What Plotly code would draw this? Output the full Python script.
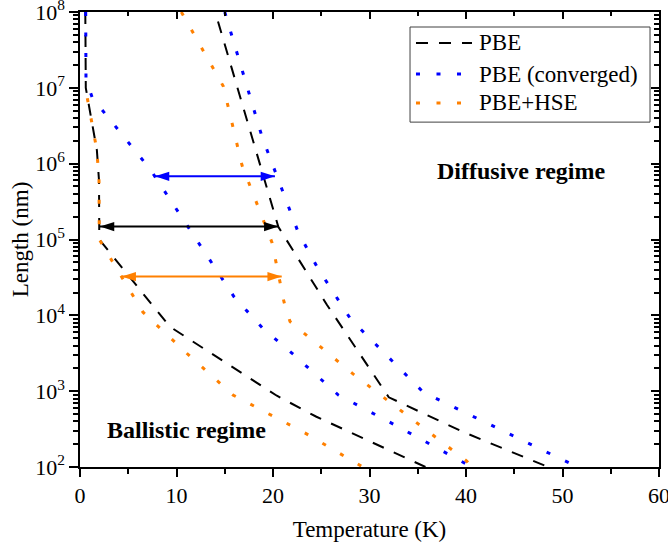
import numpy as np
import plotly.graph_objects as go

# ---- data: temperature (K) vs length (nm) boundaries ----
# PBE
pbe_ball_T = [0.55, 0.6, 1.75, 1.97, 2.0, 9.3, 20.4, 24.5, 35.8]
pbe_ball_L = [1e8, 1e7, 1.5e6, 6e5, 1e5, 7.1e3, 870, 460, 100]
pbe_diff_T = [14.3, 20.55, 25.6, 32.0, 39.7, 48.5]
pbe_diff_L = [7.5e7, 1.47e5, 1.37e4, 830, 290, 100]

# PBE (converged)
conv_ball_T = [0.59, 0.62, 1.27, 7.25, 15.96, 18.86, 22.1, 26.77, 32.5, 40.6]
conv_ball_L = [1e8, 1.3e7, 7.4e6, 8.5e5, 1.76e4, 6.9e3, 3.06e3, 890, 366, 100]
conv_diff_T = [15.0, 18.86, 22.62, 24.6, 28.05, 32.57, 35.58, 52.7]
conv_diff_L = [1e8, 2.27e6, 1.24e5, 4.27e4, 8.9e3, 2.33e3, 966, 85]

# PBE+HSE
hse_ball_T = [0.76, 1.75, 1.97, 2.0, 4.32, 6.53, 11.06, 15.85, 23.3, 29.3]
hse_ball_L = [7.3e6, 1.5e6, 6e5, 1e5, 3.2e4, 1.1e4, 3.16e3, 890, 282, 100]
hse_diff_T = [10.5, 14.85, 16.79, 19.9, 21.14, 21.76, 28.26, 40.07, 40.9]
hse_diff_L = [1e8, 1.05e7, 9.5e5, 9.1e4, 1.5e4, 8.3e3, 1.7e3, 120, 88]

# double-headed arrows: (T_left, T_right, length level)
arrow_T_left = [7.77, 2.07, 4.32]
arrow_T_right = [20.2, 20.55, 20.9]
arrow_L = [6.8e5, 1.48e5, 3.24e4]

series_names = ["PBE", "PBE (converged)", "PBE+HSE"]
major_T = [0, 10, 20, 30, 40, 50, 60]
minor_T = [5, 15, 25, 35, 45, 55]
major_exp = [2, 3, 4, 5, 6, 7, 8]

FONT = "Liberation Serif, Times New Roman, Times, DejaVu Serif, serif"
BLACK = "#000000"
BLUE = "#0000FF"
ORANGE = "#FF8000"

styles = [
    dict(color=BLACK, dash="12px,11px", width=2),
    dict(color=BLUE, dash="4px,16.5px", width=3),
    dict(color=ORANGE, dash="4px,16.5px", width=3),
]
curves = [
    [(pbe_ball_T, pbe_ball_L), (pbe_diff_T, pbe_diff_L)],
    [(conv_ball_T, conv_ball_L), (conv_diff_T, conv_diff_L)],
    [(hse_ball_T, hse_ball_L), (hse_diff_T, hse_diff_L)],
]

fig = go.Figure()
for name, style, pair in zip(series_names, styles, curves):
    for T, L in pair:
        fig.add_trace(go.Scatter(
            x=T, y=L, mode="lines", name=name, legendgroup=name,
            showlegend=False, line=style, hoverinfo="skip",
        ))

arrow_colors = [BLUE, BLACK, ORANGE]
for tl, tr, lv, c in zip(arrow_T_left, arrow_T_right, arrow_L, arrow_colors):
    fig.add_trace(go.Scatter(
        x=[tl, tr], y=[lv, lv], mode="lines+markers", showlegend=False,
        line=dict(color=c, width=2),
        marker=dict(symbol="arrow", size=15, color=c, angle=[-90, 90],
                    line=dict(width=0)),
        hoverinfo="skip",
    ))

major_L = [10 ** e for e in major_exp]
minor_L = [m * 10 ** e for e in range(2, 8) for m in range(2, 10)]
tick_text = [f"10<sup>{e}</sup>" for e in major_exp]

# extra tick-only axes: (axis id, overlay of, side, tick values, length, direction)
tick_axes = [
    ("x2", "x", "bottom", minor_T, 5, "outside"),
    ("x3", "x", "top", major_T, 7, "inside"),
    ("x4", "x", "top", minor_T, 4, "inside"),
    ("y2", "y", "left", minor_L, 5, "outside"),
    ("y3", "y", "right", major_L, 8, "inside"),
    ("y4", "y", "right", minor_L, 5, "inside"),
]

# invisible point per overlay pair so each tick-only axis gets drawn
for xa, ya in [("x2", "y2"), ("x3", "y3"), ("x4", "y4")]:
    fig.add_trace(go.Scatter(x=[30], y=[1e5], xaxis=xa, yaxis=ya,
                             mode="markers", marker=dict(opacity=0),
                             showlegend=False, hoverinfo="skip"))

axis_font = dict(family=FONT, size=22, color=BLACK)
common = dict(showline=True, linecolor=BLACK, linewidth=1.5, showgrid=False,
              zeroline=False, tickcolor=BLACK, tickwidth=1.5, automargin=False)

layout_axes = {}
for aid, over, side, vals, tlen, tdir in tick_axes:
    key = ("xaxis" if aid[0] == "x" else "yaxis") + aid[1:]
    ax = dict(overlaying=over, side=side, tickmode="array", tickvals=vals,
              ticks=tdir, ticklen=tlen, showticklabels=False, **common)
    if aid[0] == "x":
        ax.update(range=[0, 60], anchor="y")
    else:
        ax.update(type="log", range=[2, 8], anchor="x")
    layout_axes[key] = ax

# legend box drawn in paper coordinates, with longer line samples
leg_x0, leg_x1, leg_y0, leg_y1 = 0.570, 0.9845, 0.758, 0.967
leg_rows = [0.9319, 0.8637, 0.800]
sample_x0, sample_x1, text_x = 0.5803, 0.677, 0.6857

shapes = [dict(type="rect", xref="paper", yref="paper", x0=leg_x0, x1=leg_x1,
               y0=leg_y0, y1=leg_y1, line=dict(color="#404040", width=1),
               fillcolor="white", layer="above")]
annotations = []
for name, style, ry in zip(series_names, styles, leg_rows):
    shapes.append(dict(type="line", xref="paper", yref="paper",
                       x0=sample_x0, x1=sample_x1, y0=ry, y1=ry,
                       line=dict(color=style["color"], width=style["width"],
                                 dash=style["dash"]),
                       layer="above"))
    annotations.append(dict(x=text_x, y=ry, xref="paper", yref="paper",
                            text=name, showarrow=False, xanchor="left",
                            yanchor="middle",
                            font=dict(family=FONT, size=23, color=BLACK)))

annotations += [
    dict(x=45.8, y=5.90, xref="x", yref="y", text="<b>Diffusive regime</b>",
         showarrow=False, font=dict(family=FONT, size=24, color=BLACK)),
    dict(x=11.0, y=2.49, xref="x", yref="y", text="<b>Ballistic regime</b>",
         showarrow=False, font=dict(family=FONT, size=24, color=BLACK)),
]

fig.update_layout(
    width=668, height=552,
    margin=dict(l=80, r=9, t=12, b=85),
    paper_bgcolor="white", plot_bgcolor="white",
    font=dict(family=FONT, color=BLACK),
    showlegend=False,
    xaxis=dict(
        range=[0, 60], tickmode="array", tickvals=major_T,
        ticks="outside", ticklen=8, tickfont=axis_font,
        ticklabeloverflow="allow",
        title=dict(text="Temperature (K)", font=dict(family=FONT, size=23),
                   standoff=14),
        **common,
    ),
    yaxis=dict(
        type="log", range=[2, 8], tickmode="array", tickvals=major_L,
        ticktext=tick_text, ticks="outside", ticklen=9, tickfont=axis_font,
        ticklabeloverflow="allow",
        title=dict(text="Length (nm)", font=dict(family=FONT, size=23),
                   standoff=0),
        **common,
    ),
    shapes=shapes,
    annotations=annotations,
    **layout_axes,
)

fig.write_html("out.html")
